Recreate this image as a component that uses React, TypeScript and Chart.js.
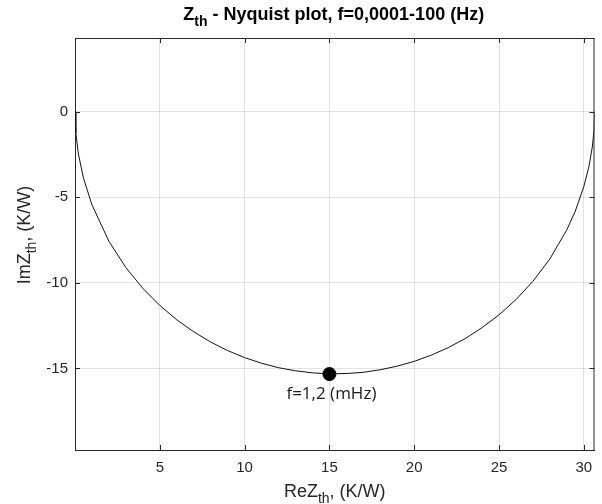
import React, { useEffect, useRef } from "react";
import { Chart, registerables } from "chart.js";

Chart.register(...registerables);

// Nyquist curve: Re Z_th (K/W) and Im Z_th (K/W)
const reZ = [0, 0.05, 0.2, 0.5, 1, 2, 3, 4, 5, 6, 7, 8, 9, 10, 11, 12, 13, 14, 15, 16, 17, 18, 19, 20, 21, 22, 23, 24, 25, 26, 27, 28, 29, 29.5, 30, 30.3, 30.5, 30.6, 30.64];
const imZ = [0, -1.24, -2.47, -3.88, -5.44, -7.57, -9.11, -10.32, -11.32, -12.16, -12.86, -13.46, -13.96, -14.37, -14.7, -14.96, -15.14, -15.26, -15.32, -15.3, -15.23, -15.08, -14.87, -14.59, -14.23, -13.79, -13.26, -12.62, -11.87, -10.98, -9.91, -8.6, -6.9, -5.8, -4.38, -3.21, -2.07, -1.1, 0];

// marked point
const markerRe = [15.0];
const markerIm = [-15.33];
const markerLabel = "f=1,2 (mHz)";

const xTicks = [5, 10, 15, 20, 25, 30];
const yTicks = [-15, -10, -5, 0];
const xRange = [0, 30.63];
const yRange = [-19.77, 4.31];

const titleParts = [
  { t: "Z", sub: false },
  { t: "th", sub: true },
  { t: " - Nyquist plot, f=0,0001-100 (Hz)", sub: false },
];
const xLabelParts = [
  { t: "ReZ", sub: false },
  { t: "th", sub: true },
  { t: ", (K/W)", sub: false },
];
const yLabelParts = [
  { t: "ImZ", sub: false },
  { t: "th", sub: true },
  { t: ", (K/W)", sub: false },
];

const AX = "#262626";
const FAM = "'Liberation Sans', Arial, sans-serif";

function drawRich(
  ctx: CanvasRenderingContext2D,
  parts: { t: string; sub: boolean }[],
  cx: number,
  cy: number,
  size: number,
  weight: string,
  family: string,
  color: string
) {
  const subSize = Math.round(size * 0.75);
  const mainFont = `${weight} ${size}px ${family}`;
  const subFont = `${weight} ${subSize}px ${family}`;
  let total = 0;
  const widths: number[] = [];
  for (const p of parts) {
    ctx.font = p.sub ? subFont : mainFont;
    const w = ctx.measureText(p.t).width;
    widths.push(w);
    total += w;
  }
  let x = cx - total / 2;
  ctx.fillStyle = color;
  ctx.textBaseline = "alphabetic";
  ctx.textAlign = "left";
  parts.forEach((p, i) => {
    ctx.font = p.sub ? subFont : mainFont;
    ctx.fillText(p.t, x, cy + (p.sub ? size * 0.35 : 0));
    x += widths[i];
  });
}

const decorPlugin = {
  id: "decor",
  afterDraw(chart: any) {
    const ctx = chart.ctx as CanvasRenderingContext2D;
    const a = chart.chartArea;
    const xs = chart.scales.x;
    const ys = chart.scales.y;
    ctx.save();
    // top and right box lines
    ctx.strokeStyle = AX;
    ctx.lineWidth = 1;
    ctx.beginPath();
    ctx.moveTo(a.left, a.top + 0.5);
    ctx.lineTo(a.right, a.top + 0.5);
    ctx.moveTo(a.right - 0.5, a.top);
    ctx.lineTo(a.right - 0.5, a.bottom);
    ctx.stroke();
    // inward ticks
    const tl = 5;
    ctx.beginPath();
    for (const v of xTicks) {
      const px = Math.round(xs.getPixelForValue(v)) + 0.5;
      ctx.moveTo(px, a.bottom);
      ctx.lineTo(px, a.bottom - tl);
      ctx.moveTo(px, a.top);
      ctx.lineTo(px, a.top + tl);
    }
    for (const v of yTicks) {
      const py = Math.round(ys.getPixelForValue(v)) + 0.5;
      ctx.moveTo(a.left, py);
      ctx.lineTo(a.left + tl, py);
      ctx.moveTo(a.right, py);
      ctx.lineTo(a.right - tl, py);
    }
    ctx.stroke();

    const midX = (a.left + a.right) / 2;
    // title
    drawRich(ctx, titleParts, midX - 1, 20, 18, "bold", FAM, "#000");
    // x label
    drawRich(ctx, xLabelParts, midX, 497, 18, "normal", FAM, AX);
    // y label
    ctx.save();
    ctx.translate(30, 235);
    ctx.rotate(-Math.PI / 2);
    drawRich(ctx, yLabelParts, 0, 0, 18, "normal", FAM, AX);
    ctx.restore();

    // marker annotation
    const mx = xs.getPixelForValue(markerRe[0]);
    const my = ys.getPixelForValue(markerIm[0]);
    ctx.font = "17px 'Open Sans', sans-serif";
    ctx.fillStyle = "#1a1a1a";
    ctx.textAlign = "center";
    ctx.textBaseline = "middle";
    ctx.fillText(markerLabel, mx + 2, my + 20);
    ctx.restore();
  },
};

export default function App() {
  const ref = useRef<HTMLCanvasElement | null>(null);
  useEffect(() => {
    if (!ref.current) return;
    const curve = reZ.map((x, i) => ({ x, y: imZ[i] }));
    const marker = markerRe.map((x, i) => ({ x, y: markerIm[i] }));
    const chart = new Chart(ref.current, {
      type: "scatter",
      data: {
        datasets: [
          {
            data: curve,
            showLine: true,
            borderColor: "#111",
            borderWidth: 1,
            pointRadius: 0,
            tension: 0,
            fill: false,
          },
          {
            data: marker,
            pointRadius: 6.5,
            pointBackgroundColor: "#000",
            pointBorderColor: "#000",
            showLine: false,
          },
        ],
      },
      options: {
        responsive: false,
        animation: false,
        layout: { padding: { left: 0, top: 38, right: 3, bottom: 0 } },
        plugins: {
          legend: { display: false },
          tooltip: { enabled: false },
          title: { display: false },
        },
        scales: {
          x: {
            type: "linear",
            min: xRange[0],
            max: xRange[1],
            afterBuildTicks: (s: any) => {
              s.ticks = xTicks.map((v) => ({ value: v }));
            },
            afterFit: (s: any) => {
              s.height = 54;
            },
            grid: { color: "rgba(38,38,38,0.13)", drawTicks: false, lineWidth: 1 },
            border: { display: true, color: AX, width: 1 },
            ticks: {
              padding: 9,
              color: AX,
              font: { family: FAM, size: 15 },
              maxRotation: 0,
              callback: (v: any) => String(v),
            },
          },
          y: {
            type: "linear",
            min: yRange[0],
            max: yRange[1],
            afterBuildTicks: (s: any) => {
              s.ticks = yTicks.map((v) => ({ value: v }));
            },
            afterFit: (s: any) => {
              s.width = 75;
            },
            grid: { color: "rgba(38,38,38,0.13)", drawTicks: false, lineWidth: 1 },
            border: { display: true, color: AX, width: 1 },
            ticks: {
              padding: 7,
              color: AX,
              font: { family: FAM, size: 15 },
              callback: (v: any) => String(v),
            },
          },
        },
      },
      plugins: [decorPlugin],
    });
    return () => chart.destroy();
  }, []);
  return (
    <div style={{ position: "fixed", left: 0, top: 0, width: 602, height: 504, background: "#fff" }}>
      <canvas ref={ref} width={602} height={504} style={{ display: "block" }} />
    </div>
  );
}
